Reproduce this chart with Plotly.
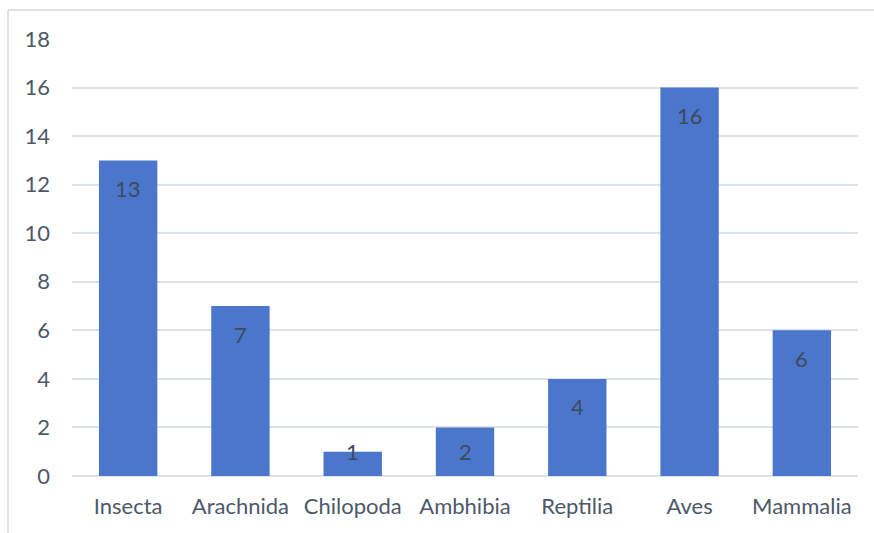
import plotly.graph_objects as go

categories = ["Insecta", "Arachnida", "Chilopoda", "Ambhibia", "Reptilia", "Aves", "Mammalia"]
values = [13, 7, 1, 2, 4, 16, 6]
y_ticks = [0, 2, 4, 6, 8, 10, 12, 14, 16, 18]

W, H = 874, 533
ml, mr, mt, mb = 72, 16, 39, 57
pw, ph = W - ml - mr, H - mt - mb

FONT = "Lato"
FS = 22
TICK_COLOR = "#4d5869"
GRID = "#dde1e8"

fig = go.Figure()
fig.add_trace(go.Bar(
    x=categories, y=values,
    marker=dict(color="#4a76cb", line=dict(width=0)),
    width=0.52,
    hoverinfo="x+y",
))

# data labels, inside end
px_per_unit = ph / 18.0
for c, v in zip(categories, values):
    yc = max(v - 28 / px_per_unit, 1.0)
    fig.add_annotation(x=c, y=yc, text=str(v), showarrow=False,
                       xanchor="center", yanchor="middle",
                       font=dict(family=FONT, size=FS, color="#3f4a5a"))

# outer chart border (left and top visible)
bx0 = (8 - ml) / pw
bx1 = (W - ml) / pw
by_top = 1 + (mt - 10) / ph
by_bot = -(mb) / ph
fig.add_shape(type="line", xref="paper", yref="paper", x0=bx0, x1=bx0, y0=by_bot, y1=by_top,
              line=dict(color="#d9d9d9", width=1.5))
fig.add_shape(type="line", xref="paper", yref="paper", x0=bx0, x1=bx1, y0=by_top, y1=by_top,
              line=dict(color="#d9d9d9", width=1.5))

fig.update_layout(
    width=W, height=H,
    margin=dict(l=ml, r=mr, t=mt, b=mb, pad=0),
    paper_bgcolor="white", plot_bgcolor="white",
    showlegend=False,
    font=dict(family=FONT, size=FS, color=TICK_COLOR),
    bargap=0.48,
)
fig.update_xaxes(
    showgrid=False, showline=False, zeroline=False, ticks="",
    tickfont=dict(family=FONT, size=FS, color=TICK_COLOR),
    ticklabelstandoff=15,
)
fig.update_yaxes(
    range=[0, 18], tickvals=y_ticks, ticktext=[str(t) for t in y_ticks],
    showgrid=True, gridcolor=GRID, gridwidth=1.5,
    zeroline=True, zerolinecolor=GRID, zerolinewidth=1.5,
    showline=False, ticks="",
    tickfont=dict(family=FONT, size=FS, color=TICK_COLOR),
    ticklabelstandoff=21,
)

fig.write_html("out.html")
